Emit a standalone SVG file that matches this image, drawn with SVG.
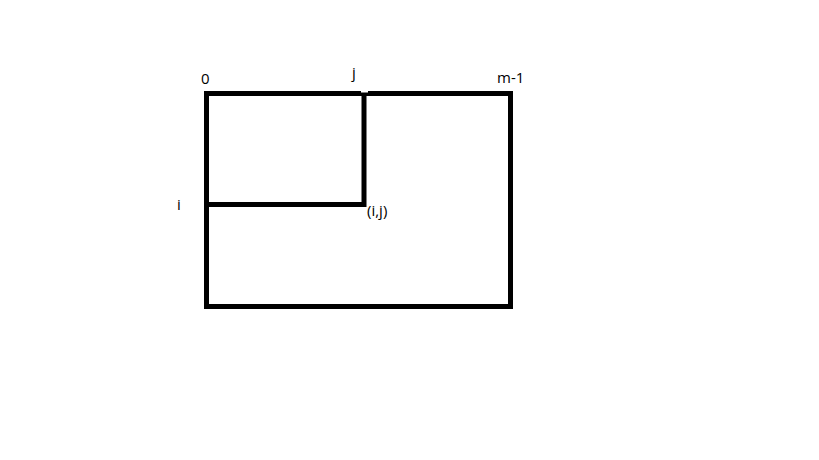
<svg xmlns="http://www.w3.org/2000/svg" width="819" height="460" viewBox="0 0 819 460">
<style>
.ln{fill:none;stroke:#000;stroke-width:5;stroke-linecap:square}
.t{font-family:"Open Sans","Noto Sans",sans-serif;font-size:15px;fill:#000}
</style>
<rect width="819" height="460" fill="#fff"/>
<g id="grid">
<rect class="ln" x="206.5" y="93.5" width="304" height="213" stroke-linecap="butt"/>
</g>
<g id="connectors">
<path class="ln" d="M364 96 V204.5 H208"/>
<rect x="361" y="90" width="7" height="2.5" fill="#fff"/>
</g>
<g id="labels">
<text class="t" x="201" y="84">0</text>
<text class="t" x="352" y="78">j</text>
<text class="t" x="497" y="83">m-1</text>
<text class="t" x="177" y="210">i</text>
<text class="t" x="367" y="216">(i,j)</text>
</g>
</svg>
